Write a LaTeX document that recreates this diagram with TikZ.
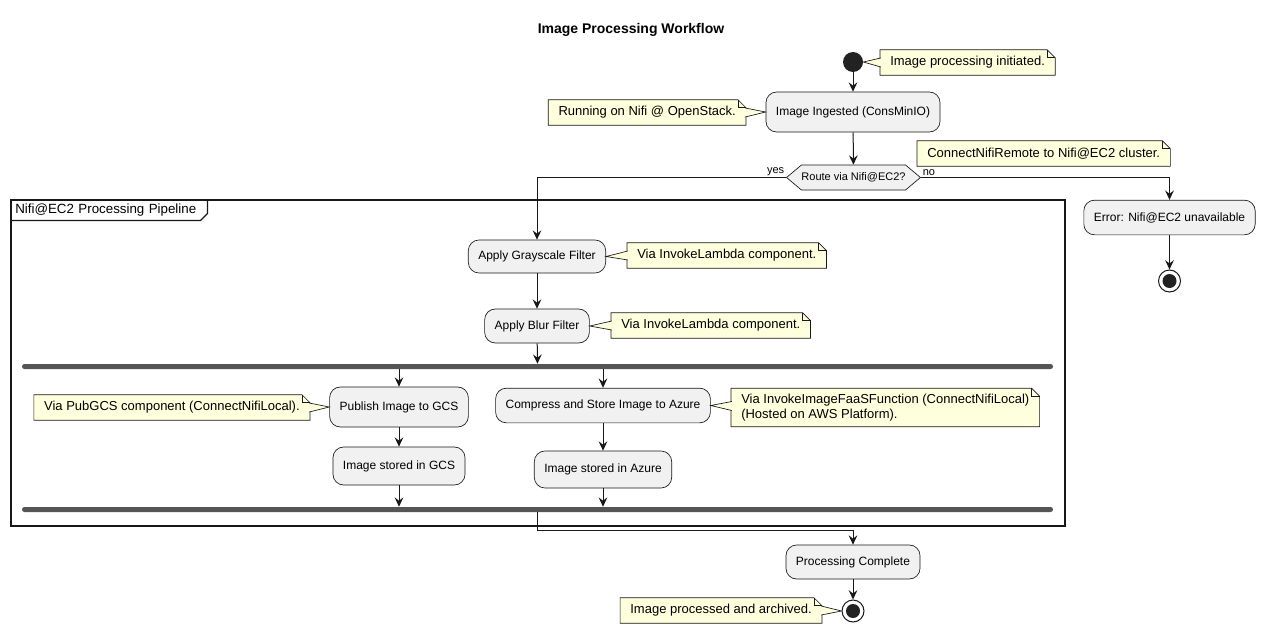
\documentclass[tikz,border=0pt]{standalone}
\usepackage{fontspec}
\setmainfont{Liberation Sans}
\usetikzlibrary{arrows.meta,calc,positioning,shapes.symbols,backgrounds}
\definecolor{linec}{HTML}{181818}
\definecolor{actfill}{HTML}{F1F1F1}
\definecolor{notefill}{HTML}{FEFFDD}
\definecolor{barfill}{HTML}{555555}
\definecolor{dotfill}{HTML}{222222}
\tikzset{%
	act/.style      = {draw=linec, fill=actfill, rectangle, rounded corners=8pt, line width=0.5pt, inner xsep=7.5pt, minimum height=26pt, font=\fontsize{9}{11}\selectfont}, % Activity
	choice/.style   = {draw=linec, fill=actfill, signal, signal to=west and east, signal pointer angle=80, line width=0.5pt, inner xsep=0pt, minimum height=18.75pt, font=\fontsize{8.25}{10}\selectfont}, % Decision
	startdot/.style = {circle, fill=dotfill, minimum size=15pt, inner sep=0pt}, % Start
	enddot/.style   = {circle, draw=linec, fill=white, line width=0.75pt, minimum size=16.5pt, inner sep=0pt, path picture={\fill[dotfill] (path picture bounding box.center) circle (5.25pt);}}, % Stop
	forkbar/.style  = {rectangle, rounded corners=1.8pt, fill=barfill, minimum width=773.25pt, minimum height=3.75pt, inner sep=0pt}, % Fork / join
	lbl/.style      = {font=\fontsize{8.25}{10}\selectfont, inner sep=1pt},
}
\tikzset{%
	notebox/.style  = {font=\fontsize{9.75}{11.5}\selectfont, inner xsep=7.5pt, inner ysep=4pt, minimum height=18.75pt, align=left,
		append after command={\pgfextra{\begin{pgfonlayer}{background}
			\filldraw[draw=linec, fill=notefill, line width=0.5pt] (\tikzlastnode.north west) -- ($(\tikzlastnode.north east)+(-8,0)$) -- ($(\tikzlastnode.north east)+(0,8)$) -- (\tikzlastnode.south east) -- (\tikzlastnode.south west) -- cycle;
			\draw[linec, line width=0.5pt] ($(\tikzlastnode.north east)+(-8,0)$) |- ($(\tikzlastnode.north east)+(0,8)$);
		\end{pgfonlayer}}}},
	notelink/.style = {draw=linec, fill=notefill, line width=0.5pt},
	flow/.style     = {->, draw=linec, line width=0.75pt},
}

\begin{document}
\begin{tikzpicture}[x=0.75pt,y=-0.75pt,>={Stealth[length=7pt,width=6.5pt,inset=2.5pt]}]
	\useasboundingbox (0,0) rectangle (1264,635);
	\node [font=\bfseries\fontsize{10.5}{13}\selectfont] (title) at (631,30) {Image Processing Workflow};
	
	\node [startdot] (start) at (853,62) {};
	\node [notebox, anchor=west] (ninit) at (880,62.5) {Image processing initiated.};
	\node [act, minimum height=30pt] (ingest) at (853,112) {Image Ingested (ConsMinIO)};
	\node [notebox, anchor=east] (nrun) at (746,112.5) {Running on Nifi @ OpenStack.};
	\node [choice] (route) at (853.5,177.5) {Route via Nifi@EC2?};
	\node [notebox, anchor=west] (nremote) at (917,153.5) {ConnectNifiRemote to Nifi@EC2 cluster.};
	\node [act] (err) at (1169.5,217.5) {Error: Nifi@EC2 unavailable};
	\node [enddot] (enderr) at (1169.5,281) {};
	
	% pipeline frame
	\draw [linec, line width=1.1pt] (11,200) rectangle (1065,526);
	\node [anchor=north west, inner xsep=3pt, inner ysep=0pt, minimum height=15pt, text width=141pt, font=\fontsize{10}{12}\selectfont] (pipe) at (11,200) {Nifi@EC2 Processing Pipeline};
	\draw [linec, line width=0.9pt] (pipe.south west) -- ($(pipe.south east)+(-7,0)$) -- ($(pipe.south east)+(0,-7)$) -- (pipe.north east);
	
	\node [act, minimum height=24.75pt] (gray) at (537,256.5) {Apply Grayscale Filter};
	\node [notebox, anchor=west] (ngray) at (627,255.5) {Via InvokeLambda component.};
	\node [act, minimum height=25.5pt] (blur) at (537,326) {Apply Blur Filter};
	\node [notebox, anchor=west] (nblur) at (611,325.5) {Via InvokeLambda component.};
	\node [forkbar] (fork) at (537.5,366.5) {};
	\node [act, minimum height=30pt] (pub) at (399,407) {Publish Image to GCS};
	\node [notebox, anchor=east] (npub) at (310,407.5) {Via PubGCS component (ConnectNifiLocal).};
	\node [act, minimum height=28.5pt] (gcs) at (399,466) {Image stored in GCS};
	\node [act] (comp) at (603,405.5) {Compress and Store Image to Azure};
	\node [notebox, anchor=west] (ncomp) at (731,407.5) {Via InvokeImageFaaSFunction (ConnectNifiLocal)\\(Hosted on AWS Platform).};
	\node [act, minimum height=27.75pt] (azure) at (603,469.5) {Image stored in Azure};
	\node [forkbar] (join) at (537.5,509.5) {};
	
	\coordinate (jturn) at (853,530);
	\node [act, minimum height=25.5pt] (done) at (853,562) {Processing Complete};
	\node [enddot] (endok) at (853,611) {};
	\node [notebox, anchor=east] (ndone) at (822,610.5) {Image processed and archived.};
	
	% note pointers
	\filldraw [notelink] ($(ninit.west)+(0.8,-4.5)$) -- (start.east) -- ($(ninit.west)+(0.8,4.5)$);
	\filldraw [notelink] ($(nrun.east)+(-0.8,-4.5)$) -- (ingest.west) -- ($(nrun.east)+(-0.8,4.5)$);
	\filldraw [notelink] ($(ngray.west)+(0.8,-4.5)$) -- (gray.east) -- ($(ngray.west)+(0.8,4.5)$);
	\filldraw [notelink] ($(nblur.west)+(0.8,-4.5)$) -- (blur.east) -- ($(nblur.west)+(0.8,4.5)$);
	\filldraw [notelink] ($(npub.east)+(-0.8,-4.5)$) -- (pub.west) -- ($(npub.east)+(-0.8,4.5)$);
	\filldraw [notelink] ($(ncomp.west)+(0.8,-6)$) -- (comp.east) -- ($(ncomp.west)+(0.8,3)$);
	\filldraw [notelink] ($(ndone.east)+(-0.8,-4.5)$) -- (endok.west) -- ($(ndone.east)+(-0.8,4.5)$);
	
	\draw [flow] (start) -- (ingest);
	\draw [flow] (ingest) -- (route);
	\draw [flow] (route.west) -| node[lbl, pos=0, anchor=south east] {yes} (gray.north);
	\draw [flow] (route.east) -| node[lbl, pos=0, anchor=south west] {no} (err.north);
	\draw [flow] (err) -- (enderr);
	\draw [flow] (gray) -- (blur);
	\draw [flow] (blur) -- (fork);
	\draw [flow] (pub.north |- fork.south) -- (pub);
	\draw [flow] (comp.north |- fork.south) -- (comp);
	\draw [flow] (pub) -- (gcs);
	\draw [flow] (comp) -- (azure);
	\draw [flow] (gcs) -- (gcs.south |- join.north);
	\draw [flow] (azure) -- (azure.south |- join.north);
	\draw [flow] (join.south) |- (jturn) -- (done);
	\draw [flow] (done) -- (endok);
\end{tikzpicture}
\end{document}
